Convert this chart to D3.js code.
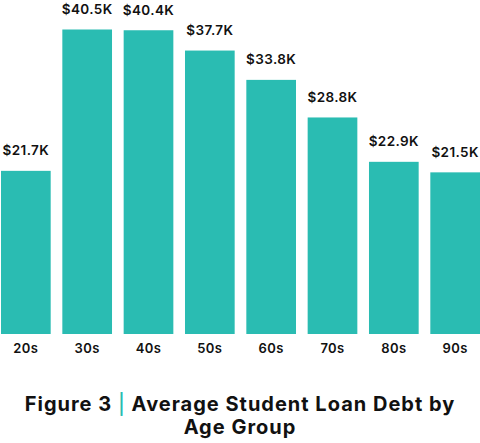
<!DOCTYPE html>
<html>
<head>
<meta charset="utf-8">
<script src="https://cdn.jsdelivr.net/npm/d3@7"></script>
<style>
  body { margin:0; background:#fff; }
  svg text { font-family: Inter, "Noto Sans", sans-serif; }
</style>
</head>
<body>
<div id="chart"></div>
<script>
var ages = ['20s','30s','40s','50s','60s','70s','80s','90s'];
var debt = [21.7, 40.5, 40.4, 37.7, 33.8, 28.8, 22.9, 21.5]; // thousands of $
var titleMain = 'Average Student Loan Debt by';
var titleLine2 = 'Age Group';

var width = 480,
    height = 443,
    barColor = '#2abcb2';

var svg = d3.select('#chart').append('svg')
    .attr('width', width)
    .attr('height', height);

var x = d3.scaleBand()
    .domain(ages)
    .range([1, 480])
    .paddingInner(0.19)
    .paddingOuter(0);

var y = d3.scaleLinear()
    .domain([0, d3.max(debt)])
    .range([334, 29.5]);

var bars = svg.selectAll('.bar')
    .data(ages)
  .enter()
    .append('g')
    .attr('class', 'bar')
    .attr('transform', function(d){ return 'translate(' + x(d) + ',0)'; });

bars.append('rect')
    .attr('y', function(d,i){ return y(debt[i]); })
    .attr('width', x.bandwidth())
    .attr('height', function(d,i){ return y(0) - y(debt[i]); })
    .attr('fill', barColor);

// value labels
bars.append('text')
    .attr('x', x.bandwidth()/2)
    .attr('y', function(d,i){ return y(debt[i]) - 15.5; })
    .attr('text-anchor', 'middle')
    .attr('font-size', '13.5px')
    .attr('font-weight', 600)
    .attr('letter-spacing', '0.4px')
    .attr('fill', '#111')
    .text(function(d,i){ return '$' + debt[i].toFixed(1) + 'K'; });

// category labels
bars.append('text')
    .attr('x', x.bandwidth()/2)
    .attr('y', 353)
    .attr('text-anchor', 'middle')
    .attr('font-size', '13px')
    .attr('font-weight', 600)
    .attr('letter-spacing', '0.4px')
    .attr('fill', '#111')
    .text(function(d){ return d; });

// title
var title = svg.append('text')
    .attr('text-anchor', 'middle')
    .attr('font-size', '20px')
    .attr('font-weight', 700)
    .attr('letter-spacing', '1px')
    .attr('fill', '#111');

var l1 = title.append('tspan').attr('x', 240).attr('y', 410.5);
l1.append('tspan').text('Figure 3 ');
l1.append('tspan').attr('fill', barColor).attr('font-weight', 500).text('|');
l1.append('tspan').text(' ' + titleMain);

title.append('tspan').attr('x', 240).attr('y', 433.5).text(titleLine2);
</script>
</body>
</html>
